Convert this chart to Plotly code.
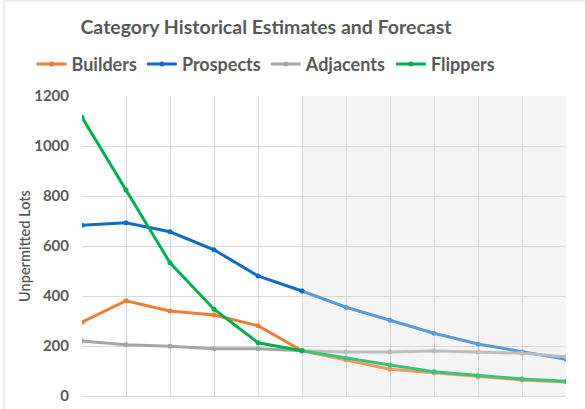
import plotly.graph_objects as go

# Data
periods = list(range(12))
forecast_start = 5

builders = [295, 381, 340, 324, 281, 181, 144, 107, 93, 77, 64, 56]
prospects = [683, 693, 657, 585, 480, 420, 355, 303, 251, 208, 176, 147]
adjacents = [220, 205, 199, 189, 189, 181, 176, 176, 180, 176, 171, 157]
flippers = [1115, 824, 533, 347, 213, 181, 151, 124, 97, 81, 68, 59]

series = [
    ("Builders", builders, "#ED7D31", "#F19A60"),
    ("Prospects", prospects, "#0F6CC4", "#5B9BD5"),
    ("Adjacents", adjacents, "#A5A5A5", "#BDBDBD"),
    ("Flippers", flippers, "#00B050", "#3CC37A"),
]

TEXT_COLOR = "#595959"
FONT = "Lato, Carlito, Calibri, sans-serif"

fig = go.Figure()

# Forecast portions (lighter)
for name, vals, color, light in series:
    fig.add_trace(go.Scatter(
        x=periods[forecast_start:], y=vals[forecast_start:],
        mode="lines+markers", name=name, showlegend=False,
        line=dict(color=light, width=3),
        marker=dict(size=5, color=light),
        hoverinfo="skip",
    ))

# Historical portions
for name, vals, color, light in series:
    fig.add_trace(go.Scatter(
        x=periods[:forecast_start + 1], y=vals[:forecast_start + 1],
        mode="lines+markers", name=name,
        line=dict(color=color, width=3),
        marker=dict(size=5, color=color),
    ))

# Forecast shading
fig.add_shape(
    type="rect", xref="x", yref="y",
    x0=forecast_start, x1=periods[-1], y0=0, y1=1200,
    fillcolor="#F5F5F5", line=dict(width=0), layer="below",
)

# Outer border
fig.add_shape(
    type="rect", xref="paper", yref="paper",
    x0=-0.161, x1=1.05, y0=-0.06, y1=1.317,
    line=dict(color="#D9D9D9", width=1), fillcolor="rgba(0,0,0,0)",
)

fig.update_layout(
    width=585, height=409,
    margin=dict(l=82, r=19, t=96, b=13),
    plot_bgcolor="white", paper_bgcolor="white",
    font=dict(family=FONT, color=TEXT_COLOR),
    title=dict(
        text="<b>Category Historical Estimates and Forecast</b>",
        x=0.4547, xanchor="center", y=0.934, yanchor="middle",
        font=dict(size=19.5, color=TEXT_COLOR, family=FONT),
    ),
    legend=dict(
        orientation="h", xref="container", x=0.4547, xanchor="center",
        yref="container", y=0.843, yanchor="middle",
        font=dict(size=18, color=TEXT_COLOR, family=FONT, weight="bold"),
        itemwidth=30, tracegroupgap=0,
    ),
    showlegend=True,
)

fig.update_xaxes(
    range=[0, 11], showticklabels=False, tickmode="linear", dtick=1,
    showgrid=True, gridcolor="#D9D9D9", gridwidth=1, automargin=False,
    zeroline=False, showline=True, linecolor="#D9D9D9",
)
fig.update_yaxes(
    range=[0, 1200], dtick=200, automargin=False,
    showgrid=True, gridcolor="#D9D9D9", gridwidth=1, zeroline=False,
    tickfont=dict(size=15, color=TEXT_COLOR, family=FONT, weight="bold"),
    ticklabelstandoff=12,
    title=dict(text="Unpermitted Lots", standoff=0,
               font=dict(size=14.5, color=TEXT_COLOR, family=FONT, weight=600)),
)

fig.write_html(
    "out.html",
    config={"displayModeBar": False},
    post_script="document.body.style.margin='0';",
)
